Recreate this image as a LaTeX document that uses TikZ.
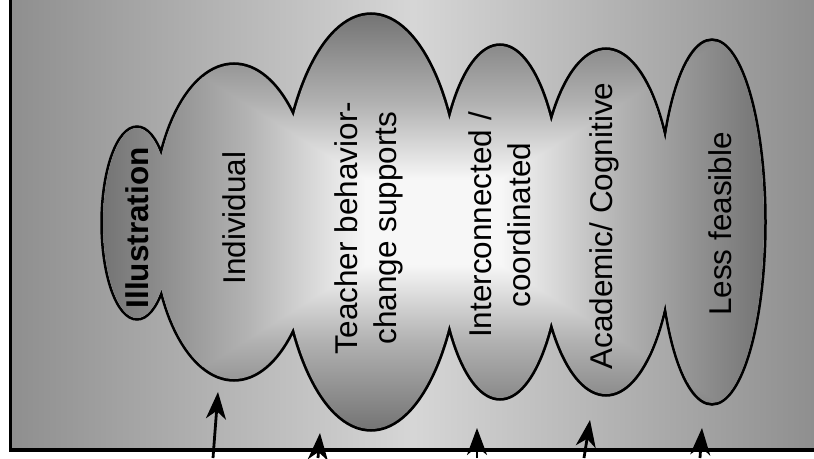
\documentclass[tikz,border=0pt]{standalone}
\usepackage{fontspec}
\setmainfont{Liberation Sans}
\usetikzlibrary{arrows.meta}
\definecolor{gout}{gray}{0.45}
\definecolor{gmid}{gray}{0.70}
\definecolor{gin}{gray}{0.97}
\definecolor{bgout}{gray}{0.56}
\definecolor{bgin}{gray}{0.84}
\pgfdeclarehorizontalshading{glowsym}{100bp}{color(0bp)=(gout); color(25bp)=(gout); color(36bp)=(gmid); color(45bp)=(gin); color(55bp)=(gin); color(64bp)=(gmid); color(75bp)=(gout); color(100bp)=(gout)}
\pgfdeclarehorizontalshading{glowramp}{100bp}{color(0bp)=(gout); color(25bp)=(gout); color(47bp)=(gmid); color(65bp)=(gin); color(100bp)=(gin)}
\begin{document}
\begin{tikzpicture}[x=1pt,y=-1pt,
  lbl/.style={rotate=90, inner sep=0pt, align=center, font=\fontsize{31.5}{39}\selectfont},
  blob/.style={line width=5.5pt, draw=black},
  arr/.style={line width=2.8pt, -{Stealth[length=27pt,width=20pt,inset=8pt]}}]
\useasboundingbox (0,0) rectangle (814,458);
\fill[white] (0,0) rectangle (814,458);
\shade[left color=bgout, right color=bgout, middle color=bgin] (12,0) rectangle (814,449);
\draw[blob] (137,223) ellipse [x radius=34pt, y radius=95pt]
  (234,222) ellipse [x radius=80pt, y radius=157pt]
  (371,222) ellipse [x radius=90pt, y radius=207pt]
  (500,222) ellipse [x radius=62pt, y radius=176pt]
  (606,222) ellipse [x radius=67pt, y radius=172pt]
  (712,222) ellipse [x radius=52pt, y radius=181pt];
\begin{scope}
\clip (137,223) ellipse [x radius=34pt, y radius=95pt]
  (234,222) ellipse [x radius=80pt, y radius=157pt]
  (371,222) ellipse [x radius=90pt, y radius=207pt]
  (500,222) ellipse [x radius=62pt, y radius=176pt]
  (606,222) ellipse [x radius=67pt, y radius=172pt]
  (712,222) ellipse [x radius=52pt, y radius=181pt];
\shade[shading=glowsym, shading angle=90] (100,12) rectangle (767,432);
\shade[shading=glowramp] (100,12) -- (433,222) -- (100,432) -- cycle;
\shade[shading=glowramp, shading angle=180] (767,12) -- (433,222) -- (767,432) -- cycle;
\end{scope}
\draw[line width=3pt] (10.5,0) -- (10.5,452);
\draw[line width=4pt] (9,450) -- (814,450);
\node[lbl] (illus) at (137,228) {\bfseries Illustration};
\node[lbl] (indiv) at (234,218) {Individual};
\node[lbl] (teach) at (369,228) {Teacher behavior-\\change supports};
\node[lbl] (inter) at (500,225) {Interconnected /\\coordinated};
\node[lbl] (acad) at (604,226) {Academic/ Cognitive};
\node[lbl] (less) at (720,224) {Less feasible};
\coordinate (t1) at (213,458); \coordinate (h1) at (218,392);
\coordinate (t2) at (318,458); \coordinate (h2) at (320,433);
\coordinate (t3) at (477,458); \coordinate (h3) at (477,428);
\coordinate (t4) at (584,458); \coordinate (h4) at (590,420);
\coordinate (t5) at (700,458); \coordinate (h5) at (702,428);
\draw[arr] (t1) -- (h1);
\draw[arr] (t2) -- (h2);
\draw[arr] (t3) -- (h3);
\draw[arr] (t4) -- (h4);
\draw[arr] (t5) -- (h5);
\end{tikzpicture}
\end{document}
